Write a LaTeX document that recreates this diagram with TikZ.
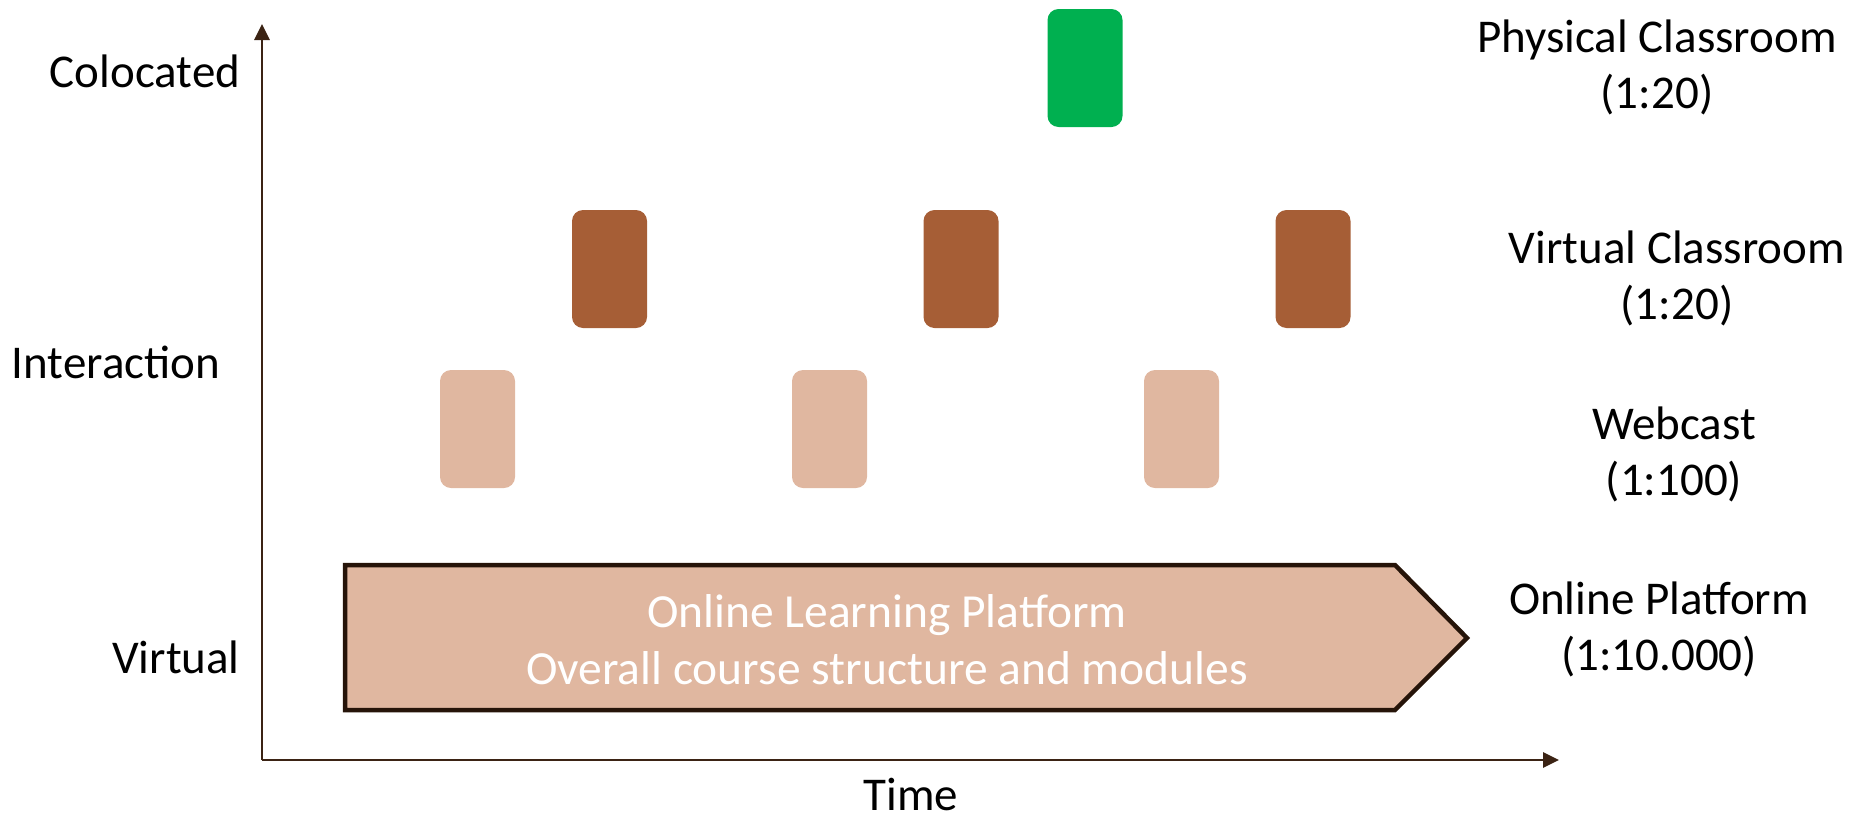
\documentclass[tikz,border=0pt]{standalone}
\usepackage{fontspec}
\setmainfont{Carlito}
\usetikzlibrary{arrows.meta}
\definecolor{axisbrown}{HTML}{3B2314}
\definecolor{edgebrown}{HTML}{261409}
\definecolor{greenbox}{HTML}{00B050}
\definecolor{darkbox}{HTML}{A65E36}
\definecolor{lightbox}{HTML}{E0B7A0}
\tikzset{
  lbl/.style={font=\fontsize{47}{56}\selectfont, align=center, inner sep=0pt, text=black},
  slot/.style={rounded corners=11pt, minimum width=75pt, minimum height=118pt, inner sep=0pt, draw=none},
  axisline/.style={draw=axisbrown, line width=2.8pt, -{Triangle[width=15pt,length=16pt]}},
}
\begin{document}
\begin{tikzpicture}[x=1pt,y=-1pt]
\useasboundingbox (0,0) rectangle (1867,822);
% axes
\coordinate (origin) at (262,760);
\coordinate (ytip) at (262,24);
\coordinate (xtip) at (1559,760);
\draw[axisline] (origin) -- (ytip);
\draw[axisline] (origin) -- (xtip);
% axis labels
\node[lbl] (colocated) at (145,71) {Colocated};
\node[lbl] (interaction) at (116,362) {Interaction};
\node[lbl] (virtual) at (176,657) {Virtual};
\node[lbl, anchor=base, text depth=0pt, text height=30pt] (time) at (911,810) {Time};
% slots
\node[slot, fill=greenbox] (phys) at (1085,68) {};
\node[slot, fill=darkbox] (vc1) at (609.5,269) {};
\node[slot, fill=darkbox] (vc2) at (961,269) {};
\node[slot, fill=darkbox] (vc3) at (1313,269) {};
\node[slot, fill=lightbox] (wc1) at (477.5,429) {};
\node[slot, fill=lightbox] (wc2) at (829.5,429) {};
\node[slot, fill=lightbox] (wc3) at (1181.5,429) {};
% platform arrow
\draw[fill=lightbox, draw=edgebrown, line width=4.5pt, line join=miter]
  (345,565) -- (1395,565) -- (1467,638) -- (1395,710) -- (345,710) -- cycle;
\node[lbl, text=white, font=\fontsize{47.5}{57}\selectfont] (platform) at (887,640) {Online Learning Platform\\Overall course structure and modules};
% right labels
\node[lbl] (physlbl) at (1657,67) {Physical Classroom\\(1:20)};
\node[lbl] (vclbl) at (1677,278) {Virtual Classroom\\(1:20)};
\node[lbl] (wclbl) at (1674,454) {Webcast\\(1:100)};
\node[lbl] (oplbl) at (1659,629) {Online Platform\\(1:10.000)};
\end{tikzpicture}
\end{document}
